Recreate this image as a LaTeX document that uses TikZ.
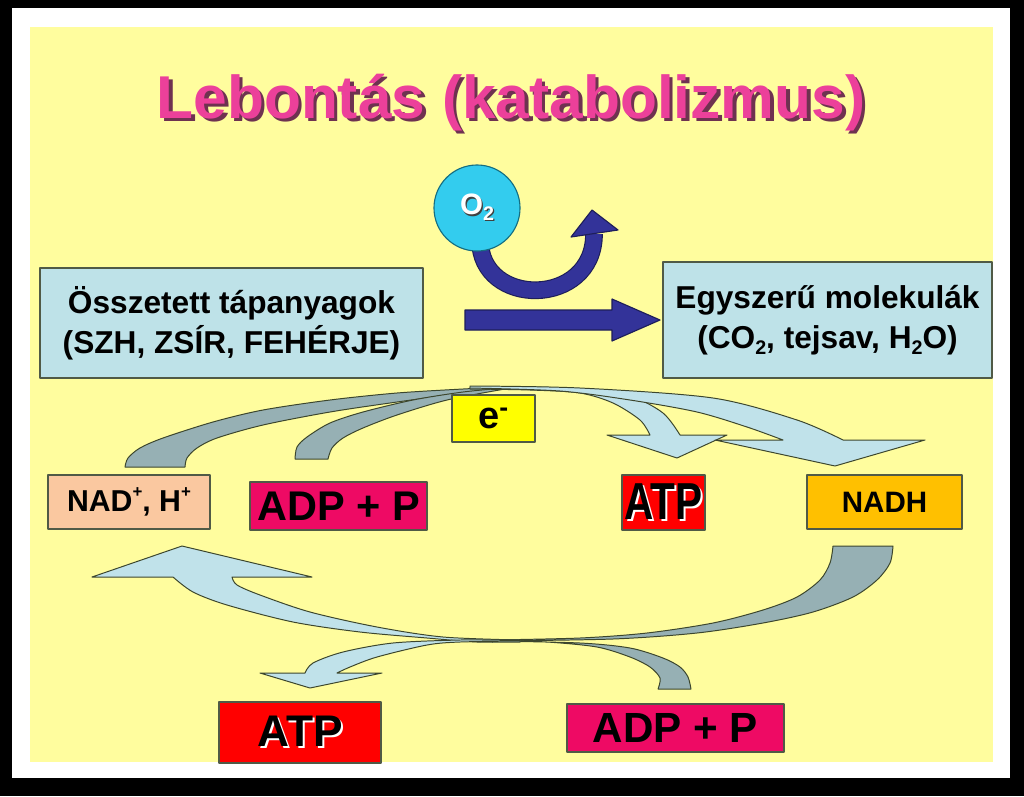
\documentclass[tikz,border=0pt]{standalone}
\usepackage{fontspec}
\setmainfont{Liberation Sans}
\usepackage{tikz}
\usetikzlibrary{arrows.meta,positioning}
\definecolor{bgyellow}{RGB}{255,253,158}
\definecolor{titlepink}{RGB}{236,64,154}
\definecolor{titleshadow}{RGB}{110,50,80}
\definecolor{boxblue}{RGB}{190,226,232}
\definecolor{boxline}{RGB}{80,90,70}
\definecolor{eyellow}{RGB}{255,255,0}
\definecolor{nadpeach}{RGB}{250,200,160}
\definecolor{adppink}{RGB}{238,10,100}
\definecolor{atpred}{RGB}{255,0,0}
\definecolor{nadhgold}{RGB}{255,192,0}
\definecolor{oxcyan}{RGB}{51,204,238}
\definecolor{oxline}{RGB}{20,110,130}
\definecolor{arrowblue}{RGB}{51,51,153}
\definecolor{blueline}{RGB}{30,30,90}
\definecolor{ribbongray}{RGB}{150,176,180}
\definecolor{ribbonlight}{RGB}{192,226,234}
\definecolor{ribbonline}{RGB}{60,70,45}
\newcommand{\shadowed}[3]{\makebox[0pt][l]{\hspace*{#1}\raisebox{-#1}{\color{#2}#3}}#3}
\newcommand{\smallsup}[1]{\raisebox{0.45em}{\fontsize{12}{12}\selectfont#1}}
\newcommand{\smallsub}[1]{\raisebox{-0.2em}{\fontsize{14}{14}\selectfont#1}}

\begin{document}
\begin{tikzpicture}[x=0.025cm,y=-0.025cm,line cap=round,line join=round,
  box/.style={draw=boxline,line width=0.8pt,inner sep=0pt,align=center},
  ribbon/.style={draw=ribbonline,line width=0.7pt},
  blockarrow/.style={fill=arrowblue,draw=blueline,line width=0.8pt}]
\path[use as bounding box] (0,0) rectangle (1024,796);
\fill[black] (0,0) rectangle (1024,796);
\fill[white] (12,8) rectangle (1010,778);
\fill[bgyellow] (30,27) rectangle (993,762);
\node[font=\bfseries\fontsize{43}{50}\selectfont,text=titlepink,anchor=base] (title) at (511,118) {\shadowed{2.5pt}{titleshadow}{Lebontás (katabolizmus)}};
\draw[draw=blueline,double=arrowblue,double distance=11pt,line width=0.8pt,line cap=butt] (480,240) .. controls (480,308) and (594,308) .. (594,234);
\filldraw[blockarrow] (571,237) -- (592,210) -- (618,230) -- cycle;
\node[circle,draw=oxline,fill=oxcyan,line width=0.8pt,minimum size=2.15cm,inner sep=0pt,text=white,font=\bfseries\fontsize{21}{24}\selectfont] (o2) at (477,208) {\shadowed{1pt}{black!75}{O\smallsub{2}}};
\filldraw[blockarrow] (465,310) -- (612,310) -- (612,299) -- (660,320) -- (612,341) -- (612,330) -- (465,330) -- cycle;
\node[box,fill=boxblue,minimum width=9.575cm,minimum height=2.75cm,font=\bfseries\fontsize{22.5}{28.5}\selectfont] (src) at (231.5,323) {Összetett tápanyagok\\(SZH, ZSÍR, FEHÉRJE)};
\node[box,fill=boxblue,minimum width=8.225cm,minimum height=2.9cm,font=\bfseries\fontsize{22.5}{28.5}\selectfont] (dst) at (827.5,320) {Egyszerű molekulák\\(CO\smallsub{2}, tejsav, H\smallsub{2}O)};
\draw[ribbon,fill=ribbongray] plot[smooth] coordinates {(125,467) (128,458) (140,448) (163,438) (213,422) (263,410) (330,400) (397,393) (463,389) (505,387)} -- plot[smooth] coordinates {(505,389) (463,393) (397,402) (330,412) (263,425) (217,438) (197,448) (187,458) (185,467)} -- cycle;
\draw[ribbon,fill=ribbongray] plot[smooth] coordinates {(295,459) (297,447) (307,437) (330,423) (363,412) (413,400) (463,392) (505,388)} -- plot[smooth] coordinates {(505,389) (447,400) (397,415) (363,428) (343,438) (332,448) (328,459)} -- cycle;
\draw[ribbon,fill=ribbonlight] plot[smooth] coordinates {(470,387) (530,387) (580,389) (630,396) (663,413) (680,435)} -- (727,435) -- (677,458) -- (607,435) -- plot[smooth] coordinates {(650,435) (640,420) (613,403) (580,393) (530,390) (470,389)} -- cycle;
\draw[ribbon,fill=ribbonlight] plot[smooth] coordinates {(470,386) (580,388) (713,398) (797,420) (843,440)} -- (925,440) -- (835,466) -- (715,440) -- plot[smooth] coordinates {(783,440) (747,427) (697,412) (630,400) (560,391) (470,388)} -- cycle;
\draw[ribbon,fill=ribbongray] plot[smooth] coordinates {(833,546) (830,563) (820,580) (797,597) (763,610) (713,623) (647,633) (580,638) (490,640)} -- plot[smooth] coordinates {(490,641) (613,639) (697,633) (763,623) (813,612) (853,597) (877,580) (890,563) (893,546)} -- cycle;
\draw[ribbon,fill=ribbongray] plot[smooth] coordinates {(658,689) (660,678) (650,667) (630,657) (597,647) (547,642) (490,640)} -- plot[smooth] coordinates {(490,641) (580,643) (630,648) (663,658) (680,667) (688,677) (691,689)} -- cycle;
\draw[ribbon,fill=ribbonlight] plot[smooth] coordinates {(520,642) (477,642) (427,638) (360,632) (293,622) (227,605) (193,592) (173,577)} -- (92,577) -- (182,546) -- (312,577) -- plot[smooth] coordinates {(232,577) (237,585) (260,595) (310,612) (377,627) (443,637) (520,640)} -- cycle;
\draw[ribbon,fill=ribbonlight] plot[smooth] coordinates {(520,640) (460,640) (393,643) (343,652) (313,663) (305,673)} -- (260,673) -- (310,688) -- (382,673) -- plot[smooth] coordinates {(337,673) (350,667) (377,657) (427,645) (460,642) (520,641)} -- cycle;
\node[box,fill=eyellow,minimum width=2.075cm,minimum height=1.175cm,font=\bfseries\fontsize{27}{30}\selectfont] (elec) at (493.5,418.5) {e\textsuperscript{-}};
\node[box,fill=nadpeach,minimum width=4.05cm,minimum height=1.35cm,font=\bfseries\fontsize{21.5}{25}\selectfont] (nad) at (129,502) {NAD\smallsup{+}, H\smallsup{+}};
\node[box,fill=adppink,minimum width=4.425cm,minimum height=1.2cm,font=\bfseries\fontsize{29.5}{33}\selectfont] (adptop) at (338.5,506) {ADP + P};
\node[box,fill=atpred,minimum width=2.075cm,minimum height=1.375cm,font=\bfseries\fontsize{37}{40}\selectfont] (atptop) at (663.5,502.5) {\scalebox{0.78}[1]{\shadowed{1.5pt}{white}{ATP}}};
\node[box,fill=nadhgold,minimum width=3.875cm,minimum height=1.35cm,font=\bfseries\fontsize{21}{25}\selectfont] (nadh) at (884.5,502) {NADH};
\node[box,fill=atpred,minimum width=4.05cm,minimum height=1.525cm,font=\bfseries\fontsize{31.5}{35}\selectfont] (atpbot) at (300,732.5) {\shadowed{1.5pt}{white}{ATP}};
\node[box,fill=adppink,minimum width=5.425cm,minimum height=1.2cm,font=\bfseries\fontsize{30}{33}\selectfont] (adpbot) at (675.5,728) {ADP + P};
\end{tikzpicture}
\end{document}
